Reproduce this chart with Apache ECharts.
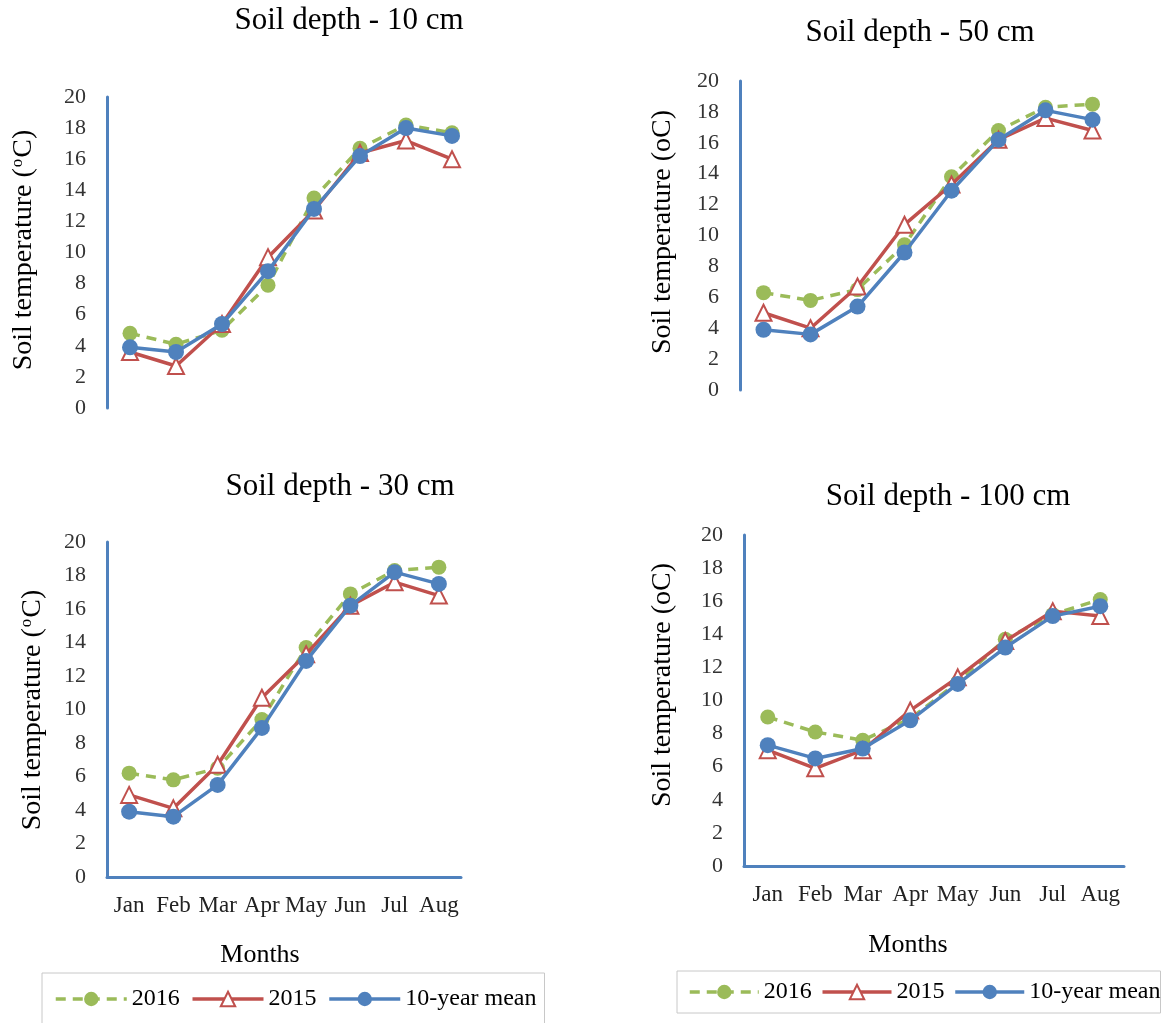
<!DOCTYPE html>
<html>
<head>
<meta charset="utf-8">
<script src="https://cdn.jsdelivr.net/npm/echarts@6/dist/echarts.min.js"></script>
<style>
html,body{margin:0;padding:0;background:#fff;}
#chart{width:1166px;height:1023px;}
</style>
</head>
<body>
<div id="chart"></div>
<script>
// ---- data ----
const months = ['Jan','Feb','Mar','Apr','May','Jun','Jul','Aug'];
const seriesNames = ['2016','2015','10-year mean'];
const yTicks = [0,2,4,6,8,10,12,14,16,18,20];

const d10_2016 = [4.8, 4.1, 5.0, 7.9, 13.5, 16.7, 18.2, 17.7];
const d10_2015 = [3.6, 2.7, 5.4, 9.7, 12.7, 16.4, 17.2, 16.0];
const d10_mean = [3.9, 3.6, 5.4, 8.8, 12.8, 16.2, 18.0, 17.5];

const d50_2016 = [6.3, 5.8, 6.5, 9.4, 13.8, 16.8, 18.3, 18.5];
const d50_2015 = [5.0, 4.0, 6.7, 10.7, 13.3, 16.2, 17.6, 16.8];
const d50_mean = [3.9, 3.6, 5.4, 8.9, 12.9, 16.2, 18.1, 17.5];

const d30_2016 = [6.2, 5.8, 6.5, 9.4, 13.7, 16.9, 18.3, 18.5];
const d30_2015 = [4.9, 4.1, 6.7, 10.7, 13.3, 16.2, 17.6, 16.8];
const d30_mean = [3.9, 3.6, 5.5, 8.9, 12.9, 16.2, 18.2, 17.5];

const d100_2016 = [9.0, 8.1, 7.6, 8.9, 11.1, 13.7, 15.2, 16.1];
const d100_2015 = [7.0, 5.9, 7.0, 9.4, 11.4, 13.6, 15.4, 15.1];
const d100_mean = [7.3, 6.5, 7.1, 8.8, 11.0, 13.2, 15.1, 15.7];

const titles = ['Soil depth - 10 cm','Soil depth - 50 cm','Soil depth - 30 cm','Soil depth - 100 cm'];
const yNameSup = 'Soil temperature ({s|o}C)';
const yNamePlain = 'Soil temperature (oC)';
const xName = 'Months';

// ---- styling / layout ----
const FONT = '"Liberation Serif","Times New Roman",serif';
const GREEN = '#9BBB59', RED = '#C0504D', BLUE = '#4F81BD';
const grids = [
  {left:107, top:97, width:368, height:311, showX:false},
  {left:740, top:81, width:376, height:309, showX:false},
  {left:107, top:542, width:354, height:335, showX:true},
  {left:744, top:535, width:380, height:331, showX:true}
];
const panelData = [
  [d10_2016, d10_2015, d10_mean],
  [d50_2016, d50_2015, d50_mean],
  [d30_2016, d30_2015, d30_mean],
  [d100_2016, d100_2015, d100_mean]
];

const xAxes = [], yAxes = [], series = [];
grids.forEach((g, i) => {
  xAxes.push({
    gridIndex: i, type: 'category', data: months, boundaryGap: true,
    axisLine: {show: g.showX, lineStyle: {color: BLUE, width: 3}},
    axisTick: {show: false},
    axisLabel: {show: g.showX, interval: 0, margin: 17, color: '#222', fontFamily: FONT, fontSize: 23},
    splitLine: {show: false}
  });
  yAxes.push({
    gridIndex: i, type: 'value', min: yTicks[0], max: yTicks[yTicks.length-1], interval: yTicks[1]-yTicks[0],
    axisLine: {show: true, lineStyle: {color: BLUE, width: 3}},
    axisTick: {show: false},
    axisLabel: {margin: 21, color: '#333', fontFamily: FONT, fontSize: 22},
    splitLine: {show: false}
  });
  const [a, b, c] = panelData[i];
  series.push({
    name: seriesNames[0], type: 'line', xAxisIndex: i, yAxisIndex: i, data: a,
    symbol: 'circle', symbolSize: 15, z: 2,
    lineStyle: {color: GREEN, width: 3.5, type: [10, 7]},
    itemStyle: {color: GREEN}
  });
  series.push({
    name: seriesNames[1], type: 'line', xAxisIndex: i, yAxisIndex: i, data: b,
    symbol: 'triangle', symbolSize: 16, z: 3,
    lineStyle: {color: RED, width: 3.5},
    itemStyle: {color: '#fff', borderColor: RED, borderWidth: 2}
  });
  series.push({
    name: seriesNames[2], type: 'line', xAxisIndex: i, yAxisIndex: i, data: c,
    symbol: 'circle', symbolSize: 16, z: 4,
    lineStyle: {color: BLUE, width: 3.5},
    itemStyle: {color: BLUE}
  });
});

function txt(text, x, y, size, rot, rich) {
  const st = {text: text, fontFamily: FONT, fontSize: size, fill: '#000',
              align: 'center', verticalAlign: 'middle'};
  if (rich) st.rich = rich;
  return {type: 'text', x: x, y: y, rotation: rot || 0, style: st};
}
const supRich = {s: {fontFamily: FONT, fontSize: 17, fill: '#000', verticalAlign: 'top', padding: [0, 1, 12, 1]}};

const graphics = [
  txt(titles[0], 349, 21, 31),
  txt(titles[1], 920, 33, 31),
  txt(titles[2], 340, 487, 31),
  txt(titles[3], 948, 497, 31),
  txt(yNameSup, 24, 250, 28, Math.PI/2, supRich),
  txt(yNamePlain, 663, 232, 28, Math.PI/2),
  txt(yNameSup, 33, 710, 28, Math.PI/2, supRich),
  txt(yNamePlain, 663, 685, 28, Math.PI/2),
  txt(xName, 260, 955, 26),
  txt(xName, 908, 945, 26)
];

const legendBase = {
  data: seriesNames, orient: 'horizontal', itemHeight: 18,
  borderColor: '#c8c8c8', borderWidth: 1, width: 520,
  lineStyle: {width: 3.5},
  textStyle: {fontFamily: FONT, fontSize: 24, color: '#000'}
};

const option = {
  animation: false,
  backgroundColor: '#fff',
  grid: grids.map(g => ({left: g.left, top: g.top, width: g.width, height: g.height, containLabel: false})),
  xAxis: xAxes,
  yAxis: yAxes,
  series: series,
  legend: [
    Object.assign({}, legendBase, {left: 42, top: 973, itemWidth: 71, itemGap: 11, padding: [14, 8, 40, 12]}),
    Object.assign({}, legendBase, {left: 677, top: 971, itemWidth: 69, itemGap: 9, padding: [9, 0, 9, 11]})
  ],
  graphic: graphics
};

const chart = echarts.init(document.getElementById('chart'), null, {renderer: 'canvas'});
chart.setOption(option);
</script>
</body>
</html>
